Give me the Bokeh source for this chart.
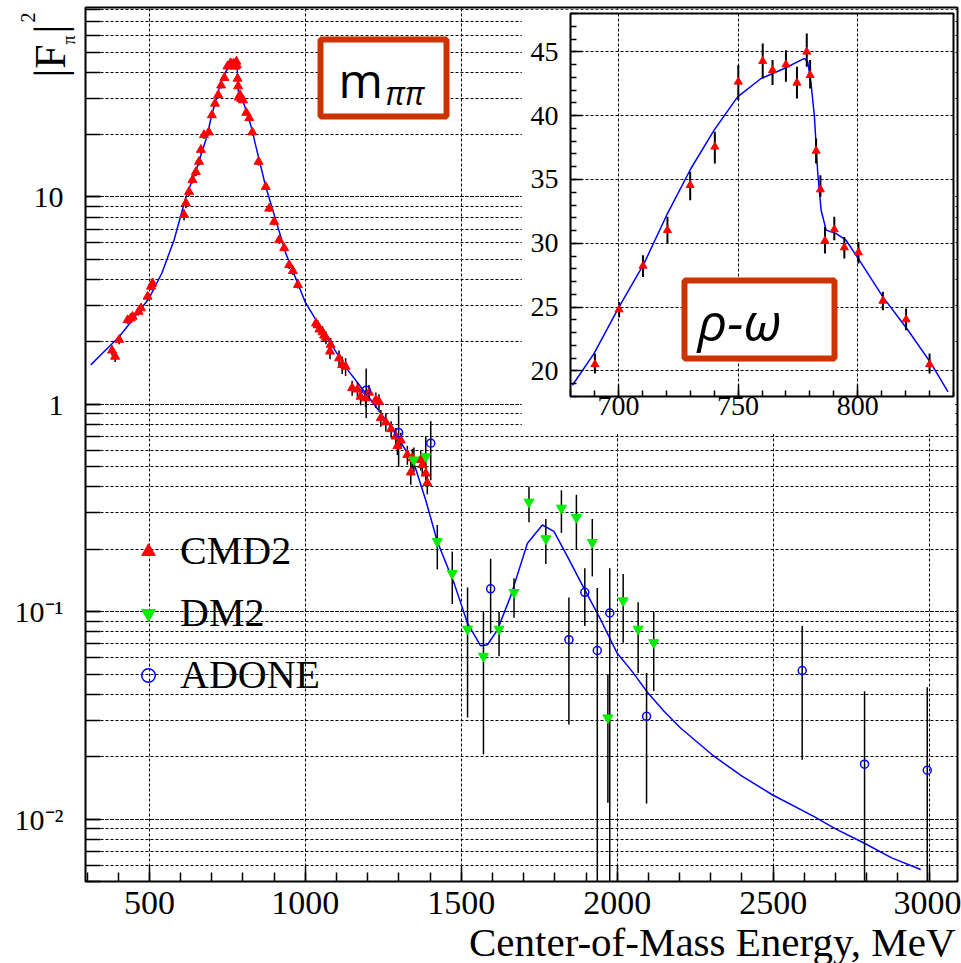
from math import pi
from bokeh.plotting import figure
from bokeh.models import (Range1d, LogTicker, SingleIntervalTicker, CustomJSTickFormatter,
                          Label, BoxAnnotation, Legend, LegendItem)
from bokeh.embed import file_html
from bokeh.resources import INLINE

# ---------------- data ----------------
# main plot: fit curve
curve_x = [312, 350, 403, 450, 499, 540, 579, 617, 650, 681, 690, 700, 711, 721, 730, 740, 750,
           760, 769, 778, 779, 781, 782, 783, 785, 787, 791, 795, 801, 811, 821, 831, 838,
           873, 937, 1000, 1060, 1135, 1210, 1274, 1348, 1386, 1423, 1477, 1520, 1562, 1584,
           1616, 1658, 1712, 1760, 1797, 1840, 1893, 1947, 2000, 2050, 2096, 2150, 2203, 2310,
           2400, 2497, 2630, 2700, 2791, 2880, 2973]
curve_y = [1.55, 1.77, 2.12, 2.6, 3.25, 4.3, 6.2, 10.0, 13.5, 18.9, 21.4, 25.0, 28.4, 32.3, 35.9,
           38.9, 41.5, 42.9, 43.7, 44.5, 44.2, 42.5, 39.9, 35.5, 32.6, 31.0, 30.8, 30.2, 28.7,
           25.8, 23.2, 20.6, 18.4, 11.2, 5.36, 3.1, 2.2, 1.47, 1.05, 0.78, 0.52, 0.345, 0.218,
           0.137, 0.088, 0.0685, 0.0693, 0.0818, 0.1186, 0.214, 0.262, 0.244, 0.185, 0.13,
           0.0915, 0.063, 0.051, 0.041, 0.0331, 0.0275, 0.0201, 0.0161, 0.0131, 0.0103,
           0.00897, 0.00767, 0.0065, 0.00571]

# CMD2 points of the main plot outside the rho-omega window
cmd_x = [380, 390, 403, 430, 440, 446, 465, 473, 494, 505, 510, 611, 617, 627, 638, 649, 659,
         665, 675, 850, 873, 884, 900, 916, 932, 948, 960, 976, 1034, 1039, 1045, 1055, 1060,
         1066, 1079, 1081, 1108, 1118, 1129, 1150, 1167, 1177, 1193, 1204, 1226, 1236, 1242,
         1258, 1275, 1290, 1295, 1306, 1327, 1338, 1343, 1370, 1375, 1386, 1391]
cmd_y = [1.82, 1.70, 2.05, 2.55, 2.6, 2.65, 2.8, 2.91, 3.31, 3.7, 3.84, 8.2, 9.33, 10.6, 12.1,
         13.2, 14.8, 16.9, 19.9, 14.8, 11.2, 8.8, 7.6, 6.2, 5.67, 4.7, 4.4, 3.77, 2.46, 2.41,
         2.3, 2.23, 2.15, 2.1, 1.8, 1.94, 1.67, 1.55, 1.52, 1.2, 1.18, 1.09, 1.07, 1.14, 1.05,
         1.03, 0.86, 0.82, 0.76, 0.70, 0.63, 0.67, 0.571, 0.47, 0.55, 0.54, 0.51, 0.464, 0.418]
cmd_err = [0.1, 0.1, 0.1, 0.1, 0.1, 0.1, 0.12, 0.12, 0.15, 0.15, 0.2, 0.5, 0.5, 0.5, 0.5, 0.6,
           0.6, 0.7, 0.8, 0.6, 0.4, 0.3, 0.3, 0.25, 0.2, 0.2, 0.2, 0.15, 0.12, 0.12, 0.12, 0.15,
           0.15, 0.15, 0.15, 0.15, 0.15, 0.15, 0.15, 0.1, 0.1, 0.1, 0.1, 0.1, 0.09, 0.09, 0.08,
           0.08, 0.07, 0.07, 0.06, 0.06, 0.06, 0.06, 0.06, 0.06, 0.06, 0.05, 0.05]

# CMD2 points in the rho-omega window (inset, also shown in main plot)
in_x = [690.2, 700.3, 710.3, 720.5, 730.0, 740.3, 750.1, 760.3, 764.4, 770.0, 774.6, 778.7,
        780.1, 782.6, 784.4, 786.3, 790.2, 794.4, 800.3, 810.5, 820.2, 830.0]
in_y = [20.52, 24.81, 28.23, 31.03, 34.55, 37.56, 42.65, 44.27, 43.56, 44.0, 42.57, 45.0,
        43.17, 37.24, 34.21, 30.19, 31.08, 29.67, 29.28, 25.49, 24.03, 20.52]
in_lo = [19.8, 24.2, 27.37, 29.98, 33.38, 36.25, 41.2, 42.91, 42.39, 42.65, 41.34, 43.82,
         42.13, 36.25, 33.64, 29.2, 30.24, 28.8, 28.41, 24.76, 23.19, 19.8]
in_hi = [21.36, 25.4, 29.07, 32.07, 35.6, 38.73, 43.96, 45.65, 44.35, 45.13, 43.82, 46.44,
         44.35, 38.2, 35.33, 31.29, 32.07, 30.5, 30.11, 26.2, 24.89, 21.36]

# inset fit curve
ic_x = [680.8, 689.8, 700.3, 710.7, 720.5, 730.3, 740.0, 749.8, 759.6, 769.3, 777.7, 779.1,
        780.5, 781.9, 783.3, 784.7, 786.8, 791.0, 795.1, 800.7, 810.5, 821.0, 830.7, 837.7]
ic_y = [18.88, 21.36, 25.02, 28.41, 32.33, 35.86, 38.86, 41.47, 42.91, 43.69, 44.48, 44.22,
        42.52, 39.91, 35.47, 32.59, 31.03, 30.76, 30.24, 28.67, 25.8, 23.19, 20.58, 18.36]

# DM2
dm_x = [1348, 1386, 1423, 1471, 1520, 1571, 1621, 1669, 1717, 1771, 1821, 1869, 1920, 1970,
        2019, 2067, 2117]
dm_y = [0.54, 0.56, 0.218, 0.153, 0.0825, 0.061, 0.0825, 0.124, 0.338, 0.225, 0.316, 0.285,
        0.216, 0.0308, 0.113, 0.0825, 0.071]
dm_lo = [0.47, 0.45, 0.16, 0.109, 0.0309, 0.0205, 0.061, 0.0935, 0.27, 0.17, 0.24, 0.20,
         0.148, 0.012, 0.0709, 0.0506, 0.0414]
dm_hi = [0.62, 0.70, 0.262, 0.195, 0.131, 0.10, 0.10, 0.145, 0.40, 0.28, 0.385, 0.366, 0.28,
         0.05, 0.152, 0.111, 0.10]

# ADONE
ad_x = [1195, 1299, 1402, 1594, 1845, 1896, 1936, 1976, 2094, 2593, 2793, 2994]
ad_y = [1.17, 0.73, 0.65, 0.129, 0.0733, 0.124, 0.065, 0.0986, 0.0313, 0.052, 0.0184, 0.0172]
ad_lo = [0.86, 0.50, 0.43, 0.0785, 0.0286, 0.0853, 0.003, 0.003, 0.0119, 0.0193, 0.003, 0.003]
ad_hi = [1.49, 0.98, 0.83, 0.18, 0.117, 0.162, 0.13, 0.162, 0.0506, 0.0853, 0.0413, 0.0432]

x_ticks_interval = 500
legend_labels = ["CMD2", "DM2", "ADONE"]

SERIF = "Liberation Serif"
SANS = "Open Sans"
BOXRED = "#cc3300"


def abs_style(left, top):
    return {"position": "absolute", "left": f"{left}px", "top": f"{top}px"}


# ---------------- main plot ----------------
p = figure(width=961, height=963, x_range=Range1d(295, 3091), y_range=Range1d(0.005, 82),
           y_axis_type="log", output_backend="svg", toolbar_location=None,
           min_border_left=85, min_border_right=4, min_border_top=7, min_border_bottom=82)
p.outline_line_color = "black"
p.outline_line_width = 2
p.background_fill_color = "white"
p.border_fill_color = "white"

p.xaxis.ticker = SingleIntervalTicker(interval=x_ticks_interval, num_minor_ticks=5)
p.yaxis.ticker = LogTicker(mantissas=[1], num_minor_ticks=10)
p.yaxis.formatter = CustomJSTickFormatter(code="""
const e = Math.round(Math.log10(tick));
if (e == 1) return "10";
if (e == 0) return "1";
if (e == -1) return "10\u207b\u00b9";
if (e == -2) return "10\u207b\u00b2";
return "";
""")
for ax in (p.xaxis[0], p.yaxis[0]):
    ax.axis_line_color = None
    ax.major_tick_out = 0
    ax.minor_tick_out = 0
    ax.major_tick_line_color = "black"
    ax.minor_tick_line_color = "black"
    ax.major_tick_line_width = 1.5
    ax.minor_tick_line_width = 1.5
    ax.major_label_text_font = SERIF
    ax.major_label_text_color = "black"
p.xaxis.major_tick_in = 16
p.xaxis.minor_tick_in = 9
p.xaxis.major_label_text_font_size = "34px"
p.xaxis.major_label_standoff = 10
p.yaxis.major_tick_in = 15
p.yaxis.minor_tick_in = 15
p.yaxis.major_label_text_font_size = "30px"
p.yaxis.major_label_standoff = 22

p.xgrid.grid_line_color = "black"
p.xgrid.grid_line_dash = "3 2"
p.xgrid.grid_line_width = 1
p.ygrid.grid_line_color = "black"
p.ygrid.grid_line_dash = "3 2"
p.ygrid.grid_line_width = 1
p.ygrid.minor_grid_line_color = "black"
p.ygrid.minor_grid_line_dash = "3 2"
p.ygrid.minor_grid_line_width = 1

p.line(curve_x, curve_y, color="#0000ff", line_width=1.5)

all_cmd_x = cmd_x + in_x
all_cmd_y = cmd_y + in_y
all_cmd_lo = [y - e for y, e in zip(cmd_y, cmd_err)] + in_lo
all_cmd_hi = [y + e for y, e in zip(cmd_y, cmd_err)] + in_hi

p.segment(x0=all_cmd_x, y0=all_cmd_lo, x1=all_cmd_x, y1=all_cmd_hi, color="black", line_width=1.5)
p.segment(x0=dm_x, y0=dm_lo, x1=dm_x, y1=dm_hi, color="black", line_width=1.5)
p.segment(x0=ad_x, y0=ad_lo, x1=ad_x, y1=ad_hi, color="black", line_width=1.5)

r_cmd = p.scatter(all_cmd_x, all_cmd_y, marker="triangle", size=9, fill_color="#ff0000",
                  line_color="#ff0000")
r_dm = p.scatter(dm_x, dm_y, marker="inverted_triangle", size=10, fill_color="#00ee00",
                 line_color="#00ee00")
r_ad = p.scatter(ad_x, ad_y, marker="circle", size=8, fill_color=None, line_color="#0000ff",
                 line_width=1.5)

legend = Legend(items=[LegendItem(label=legend_labels[0], renderers=[r_cmd]),
                       LegendItem(label=legend_labels[1], renderers=[r_dm]),
                       LegendItem(label=legend_labels[2], renderers=[r_ad])],
                location=(46, 183), glyph_width=34, glyph_height=40, label_height=40,
                spacing=15, label_standoff=15, padding=0, margin=0,
                border_line_color=None, background_fill_alpha=0,
                label_text_font=SERIF, label_text_font_size="40px",
                label_text_color="black")
p.add_layout(legend)

# m_pipi box
p.add_layout(BoxAnnotation(left=235, right=361, top=842, bottom=765,
                           left_units="screen", right_units="screen",
                           top_units="screen", bottom_units="screen",
                           fill_color="white", fill_alpha=1, line_color=BOXRED,
                           line_width=6, line_alpha=1))
p.add_layout(Label(x=253, y=802, x_units="screen", y_units="screen", text="m",
                   text_font=SANS, text_font_size="48px", text_baseline="alphabetic",
                   text_color="black"))
p.add_layout(Label(x=300, y=789, x_units="screen", y_units="screen", text="ππ",
                   text_font=SANS, text_font_style="italic", text_font_size="32px",
                   text_baseline="alphabetic", text_color="black"))

# ---------------- inset ----------------
q = figure(width=434, height=425, x_range=Range1d(680, 840), y_range=Range1d(18, 48),
           output_backend="svg", toolbar_location=None,
           min_border_left=49, min_border_right=2, min_border_top=4, min_border_bottom=38,
           styles=abs_style(521, 9))
q.outline_line_color = "black"
q.outline_line_width = 2
q.background_fill_color = "white"
q.border_fill_color = "white"
q.xaxis.ticker = SingleIntervalTicker(interval=50, num_minor_ticks=5)
q.yaxis.ticker = SingleIntervalTicker(interval=5, num_minor_ticks=5)
for ax in (q.xaxis[0], q.yaxis[0]):
    ax.axis_line_color = None
    ax.major_tick_out = 0
    ax.minor_tick_out = 0
    ax.major_tick_in = 12
    ax.minor_tick_in = 6
    ax.major_tick_line_color = "black"
    ax.minor_tick_line_color = "black"
    ax.major_tick_line_width = 1.5
    ax.minor_tick_line_width = 1.5
    ax.major_label_text_font = SERIF
    ax.major_label_text_font_size = "28px"
    ax.major_label_text_color = "black"
q.xaxis.major_label_standoff = 0
q.yaxis.major_label_standoff = 12
q.grid.grid_line_color = "black"
q.grid.grid_line_dash = "3 2"
q.grid.grid_line_width = 1

q.line(ic_x, ic_y, color="#0000ff", line_width=1.5)
q.segment(x0=in_x, y0=in_lo, x1=in_x, y1=in_hi, color="black", line_width=2)
q.scatter(in_x, in_y, marker="triangle", size=8, fill_color="#ff0000", line_color="#ff0000")

q.add_layout(BoxAnnotation(left=114, right=264, top=116, bottom=38,
                           left_units="screen", right_units="screen",
                           top_units="screen", bottom_units="screen",
                           fill_color="white", fill_alpha=1, line_color=BOXRED,
                           line_width=6, line_alpha=1))
q.add_layout(Label(x=127, y=76, x_units="screen", y_units="screen", text="ρ-ω",
                   text_font=SANS, text_font_style="italic", text_font_size="52px",
                   text_baseline="alphabetic", text_color="black"))


# ---------------- axis titles (transparent overlay figures) ----------------
def overlay(width, height, left, top):
    f = figure(width=width, height=height, x_range=Range1d(0, 1), y_range=Range1d(0, 1),
               output_backend="svg", toolbar_location=None, x_axis_location=None,
               y_axis_location=None, min_border=0, styles=abs_style(left, top))
    f.grid.visible = False
    f.outline_line_color = None
    f.background_fill_alpha = 0
    f.border_fill_alpha = 0
    return f


# y title |F_pi|^2, rotated; overlay covers page x 0..84, y 0..90
yt = overlay(84, 90, 0, 0)
yt.add_layout(Label(x=50, y=13, x_units="screen", y_units="screen", text="|F", angle=pi / 2,
                    text_font=SERIF, text_font_size="44px", text_baseline="alphabetic",
                    text_color="black"))
yt.add_layout(Label(x=68, y=46, x_units="screen", y_units="screen", text="π", angle=pi / 2,
                    text_font=SERIF, text_font_size="18px", text_baseline="alphabetic",
                    text_color="black"))
yt.add_layout(Label(x=50, y=57, x_units="screen", y_units="screen", text="|", angle=pi / 2,
                    text_font=SERIF, text_font_size="44px", text_baseline="alphabetic",
                    text_color="black"))
yt.add_layout(Label(x=27, y=68, x_units="screen", y_units="screen", text="2", angle=pi / 2,
                    text_font=SERIF, text_font_size="20px", text_baseline="alphabetic",
                    text_color="black"))

# x title; overlay covers page x 400..960, y 895..963
xt = overlay(560, 68, 400, 895)
xt.add_layout(Label(x=555, y=22, x_units="screen", y_units="screen",
                    text="Center-of-Mass Energy, MeV", text_align="right",
                    text_font=SERIF, text_font_size="41px", text_baseline="alphabetic",
                    text_color="black"))

open("out.html", "w").write(file_html([p, q, yt, xt], INLINE))
